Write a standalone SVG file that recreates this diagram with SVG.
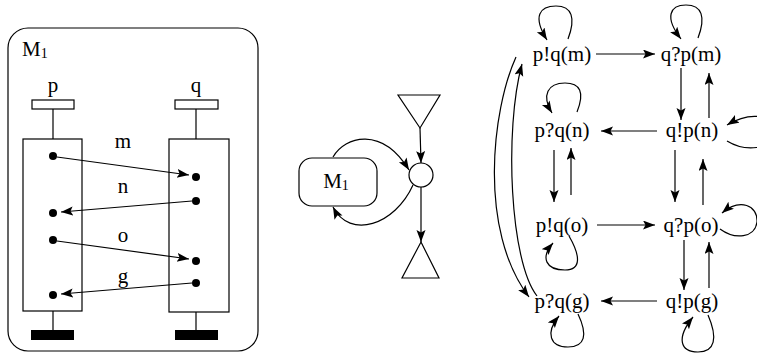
<svg xmlns="http://www.w3.org/2000/svg" width="757" height="355" viewBox="0 0 757 355">
<style>
text{font-family:"Liberation Serif","Times New Roman",serif;font-size:21px;fill:#000}
.s{fill:none;stroke:#000;stroke-width:1.2}
.w{fill:#fff;stroke:#000;stroke-width:1.2}
.b{fill:#000}
.c{fill:none;stroke:#000;stroke-width:1.2;marker-end:url(#ah)}
.sub{font-size:14px}
.m{text-anchor:middle}
</style>
<defs>
<marker id="ah" markerWidth="13" markerHeight="11" refX="12" refY="4.5" orient="auto" markerUnits="userSpaceOnUse"><path d="M0,0 L12,4.5 L0,9 L2.5,4.5 z" fill="#000"/></marker>
</defs>
<g id="M1-panel">
<rect x="8" y="28" width="250" height="323" rx="20" class="s"/>
<text x="22" y="56">M<tspan class="sub" dy="2">1</tspan></text>
</g>
<g id="proc-p">
<text x="53" y="92" class="m">p</text>
<rect x="32" y="100" width="42" height="9" class="w"/>
<line x1="53" y1="109" x2="53" y2="139" class="s"/>
<rect x="23" y="139" width="59" height="172" class="w"/>
<line x1="53" y1="311" x2="53" y2="330" class="s"/>
<rect x="31" y="330" width="43" height="10" class="b"/>
<circle cx="53" cy="156" r="4" class="b"/>
<circle cx="53" cy="213" r="4" class="b"/>
<circle cx="53" cy="240" r="4" class="b"/>
<circle cx="53" cy="295" r="4" class="b"/>
</g>
<g id="proc-q">
<text x="196" y="92" class="m">q</text>
<rect x="175" y="100" width="43" height="9" class="w"/>
<line x1="196" y1="109" x2="196" y2="139" class="s"/>
<rect x="169" y="139" width="60" height="173" class="w"/>
<line x1="196" y1="312" x2="196" y2="330" class="s"/>
<rect x="175" y="330" width="43" height="10" class="b"/>
<circle cx="196" cy="177" r="4" class="b"/>
<circle cx="196" cy="201" r="4" class="b"/>
<circle cx="196" cy="261" r="4" class="b"/>
<circle cx="196" cy="283" r="4" class="b"/>
</g>
<g id="messages">
<line x1="57" y1="157" x2="189" y2="175" class="c"/>
<line x1="192" y1="201" x2="61" y2="212" class="c"/>
<line x1="57" y1="241" x2="189" y2="259" class="c"/>
<line x1="192" y1="283" x2="61" y2="294" class="c"/>
<text x="123" y="148" class="m">m</text>
<text x="123" y="193" class="m">n</text>
<text x="123" y="242" class="m">o</text>
<text x="123" y="283" class="m">g</text>
</g>
<g id="M1-box">
<rect x="299" y="158" width="78" height="48" rx="13" class="s"/>
<text x="336" y="188" class="m">M<tspan class="sub" dy="2">1</tspan></text>
</g>
<g id="merge">
<circle cx="421" cy="175" r="12" class="s"/>
</g>
<g id="source">
<path d="M398,95 L440,95 L420,128 Z" class="s"/>
</g>
<g id="sink">
<path d="M421,242 L439,278 L402,278 Z" class="s"/>
</g>
<g id="mid-connectors">
<line x1="420" y1="128" x2="421" y2="163" class="c"/>
<line x1="421" y1="187" x2="421" y2="242" class="c"/>
<path d="M333,157 C345,136 382,126 409,170" class="c"/>
<path d="M413,185 C395,225 350,240 333,207" class="c"/>
</g>
<g id="s-pqm"><text x="562" y="61" class="m">p!q(m)</text></g>
<g id="s-qpm"><text x="691" y="61" class="m">q?p(m)</text></g>
<g id="s-pqn"><text x="562" y="137" class="m">p?q(n)</text></g>
<g id="s-qpn"><text x="692" y="137" class="m">q!p(n)</text></g>
<g id="s-pqo"><text x="562" y="232" class="m">p!q(o)</text></g>
<g id="s-qpo"><text x="691" y="232" class="m">q?p(o)</text></g>
<g id="s-pqg"><text x="562" y="308" class="m">p?q(g)</text></g>
<g id="s-qpg"><text x="692" y="308" class="m">q!p(g)</text></g>
<g id="transitions">
<line x1="596" y1="54" x2="655" y2="54" class="c"/>
<line x1="681" y1="68" x2="681" y2="120" class="c"/>
<line x1="709" y1="118" x2="709" y2="73" class="c"/>
<line x1="657" y1="131" x2="601" y2="131" class="c"/>
<line x1="554" y1="150" x2="554" y2="202" class="c"/>
<line x1="571" y1="195" x2="571" y2="148" class="c"/>
<line x1="675" y1="150" x2="675" y2="202" class="c"/>
<line x1="703" y1="205" x2="703" y2="159" class="c"/>
<line x1="597" y1="225" x2="655" y2="225" class="c"/>
<line x1="684" y1="240" x2="684" y2="290" class="c"/>
<line x1="709" y1="288" x2="709" y2="242" class="c"/>
<line x1="657" y1="301" x2="601" y2="301" class="c"/>
<path d="M516,57 C492,110 478,230 529,297" class="c"/>
<path d="M537,296 C510,262 504,130 522,64" class="c"/>
<path d="M568,39 C576,18 572,6 556,6 C540,6 532,16 547,40" class="c"/>
<path d="M698,38 C706,17 702,5 686,5 C670,5 664,17 681,39" class="c"/>
<path d="M577,112 C585,92 580,83 565,83 C548,83 541,95 552,113" class="c"/>
<path d="M727,141 C745,152 772,150 775,133 C778,116 752,110 727,125" class="c"/>
<path d="M569,236 C580,255 582,270 565,270 C546,270 540,258 553,243" class="c"/>
<path d="M720,229 C735,240 755,238 757,222 C758,205 740,198 722,213" class="c"/>
<path d="M578,314 C588,335 585,347 568,347 C550,347 545,333 559,316" class="c"/>
<path d="M708,315 C718,338 715,352 698,352 C680,352 676,338 693,317" class="c"/>
</g>
</svg>
